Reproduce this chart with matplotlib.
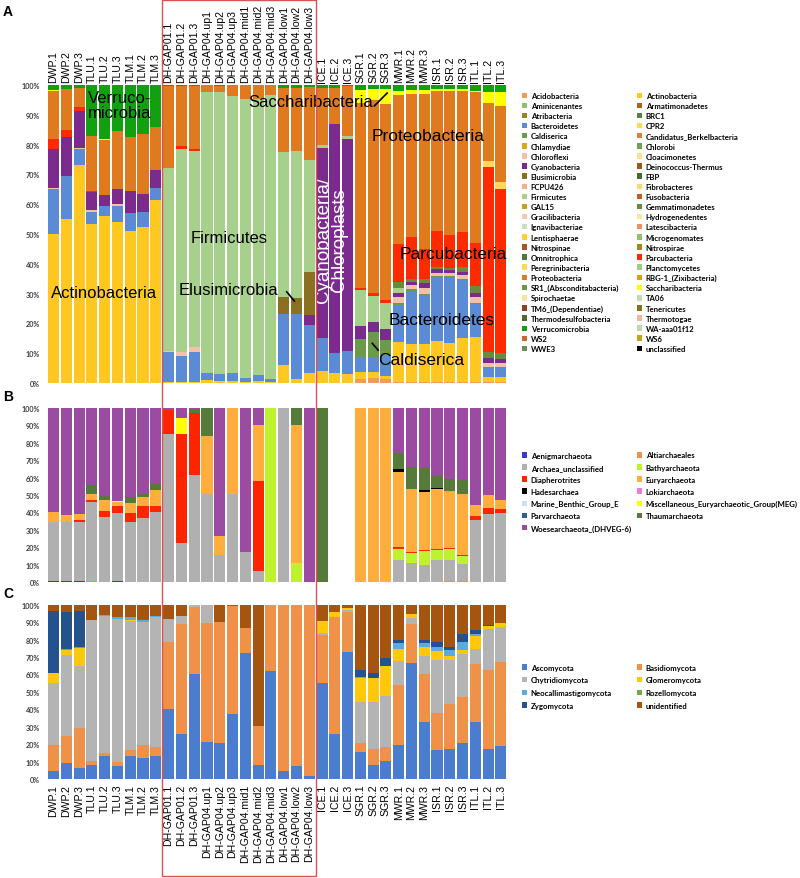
import numpy as np
import matplotlib.pyplot as plt
from matplotlib.patches import Patch, Rectangle
from matplotlib.transforms import blended_transform_factory

#-----------------------------------------------------------------------------------------------------------------------
# 1 - samples

samples = ['DWP.1', 'DWP.2', 'DWP.3', 'TLU.1', 'TLU.2', 'TLU.3', 'TLM.1', 'TLM.2', 'TLM.3',
           'DH-GAP01.1', 'DH-GAP01.2', 'DH-GAP01.3', 'DH-GAP04.up1', 'DH-GAP04.up2', 'DH-GAP04.up3',
           'DH-GAP04.mid1', 'DH-GAP04.mid2', 'DH-GAP04.mid3', 'DH-GAP04.low1', 'DH-GAP04.low2', 'DH-GAP04.low3',
           'ICE.1', 'ICE.2', 'ICE.3', 'SGR.1', 'SGR.2', 'SGR.3', 'MWR.1', 'MWR.2', 'MWR.3',
           'ISR.1', 'ISR.2', 'ISR.3', 'ITL.1', 'ITL.2', 'ITL.3']

#-----------------------------------------------------------------------------------------------------------------------
# 2 - panel A: bacterial phyla (% of reads)

bac_names = ['Acidobacteria', 'Actinobacteria', 'Aminicenantes', 'Armatimonadetes', 'Atribacteria', 'BRC1',
             'Bacteroidetes', 'CPR2', 'Caldiserica', 'Candidatus_Berkelbacteria', 'Chlamydiae', 'Chlorobi',
             'Chloroflexi', 'Cloacimonetes', 'Cyanobacteria', 'Deinococcus-Thermus', 'Elusimicrobia', 'FBP',
             'FCPU426', 'Fibrobacteres', 'Firmicutes', 'Fusobacteria', 'GAL15', 'Gemmatimonadetes',
             'Gracilibacteria', 'Hydrogenedentes', 'Ignavibacteriae', 'Latescibacteria', 'Lentisphaerae',
             'Microgenomates', 'Nitrospinae', 'Nitrospirae', 'Omnitrophica', 'Parcubacteria', 'Peregrinibacteria',
             'Planctomycetes', 'Proteobacteria', 'RBG-1_(Zixibacteria)', 'SR1_(Absconditabacteria)',
             'Saccharibacteria', 'Spirochaetae', 'TA06', 'TM6_(Dependentiae)', 'Tenericutes',
             'Thermodesulfobacteria', 'Thermotogae', 'Verrucomicrobia', 'WA-aaa01f12', 'WS2', 'WS6', 'WWE3',
             'unclassified']
bac_colors = ['#F29A5A', '#FFC820', '#8FC070', '#B0601A', '#A08020', '#5A8040',
              '#5B8BD5', '#FFD750', '#6A9A4A', '#E08030', '#D8A820', '#70A050',
              '#F5C0A8', '#FAE090', '#7B2A8E', '#A0561A', '#8A7020', '#4A6A30',
              '#F0B090', '#FDD870', '#A8D08D', '#C06020', '#C8A020', '#6A8A40',
              '#F4C8B8', '#FAE8A0', '#C8E0C0', '#F09060', '#FFD030',
              '#90C070', '#A05A2A', '#A08A20', '#4E7A3A', '#FF2A00', '#FFD85A',
              '#A0CC80', '#DF7A1E', '#D8A010', '#6A9A40',
              '#FFFF00', '#FFE0A0', '#C0DCB0', '#904020', '#8A7018',
              '#4A6A30', '#F0B898', '#10A010', '#B8DCA8', '#C86A30', '#C8A020', '#6A9050',
              '#000000']

acido = [0, 0, 0, 0, 0, 0, 0, 0, 0, 0, 0, 0, 0, 0, 0, 0, 0, 0, 0, 0, 0, 0, 0, 0,
         1.3, 1.7, 1.2, .5, .5, .5, .5, .5, .5, .5, .5, .5]
actino = [50, 55, 73, 53.5, 56, 54, 51, 52.5, 61.5, .3, .5, .5, 1, .8, .8, .5, .8, .5, 6, 1.5, 3.5,
          4, 3.5, 3, 2.3, 1.9, 1.3, 13.2, 12.5, 12.5, 13.5, 13, 14.5, 15, 1.5, 1.5]
bactero = [15, 14.5, 5.5, 4, 3.5, 5.5, 6, 5, 4, 10, 8.5, 10, 2.5, 2.3, 2.5, 1.2, 2, 1, 17, 21.5, 16,
           11, 6.5, 7.8, 5, 4.7, 6.5, 12.6, 18, 16.5, 21.7, 22.2, 19.7, 10.9, 3, 3]
caldis = [0, 0, 0, 0, 0, 0, 0, 0, 0, 0, 0, 0, 0, 0, 0, 0, 0, 0, 0, 0, 0, 0, 0, 0,
          6.3, 8.7, 5.5, .5, .5, .5, .3, .3, .3, .4, .3, .3]
chloro = [.5, 0, .3, .5, 0, .5, 0, 0, 0, .5, 1.5, 1.5, 0, 0, 0, 0, 0, 0, 0, 0, 0, 0, 0, 0,
          0, 0, 0, 2, 1.5, 2, .8, 1, 1.2, 2, 1.5, 1.5]
cyano = [13, 13, 12.5, 6, 3.5, 5, 7.5, 6, 6, 0, 0, 0, 0, 0, 0, 0, 0, 0, 0, 0, 3.3, 64, 77, 71.2,
         4.2, 3.4, 3.6, 1.5, 1, 1.5, 1.5, .8, 1.2, 1.5, 1.5, 1.2]
elusi = [0, 0, 0, 0, 0, 0, 0, 0, 0, 0, 0, 0, 0, 0, 0, 0, 0, 0, 6, 5.5, 14.3, 0, 0, 0,
         0, 0, 0, 0, 0, 0, 0, 0, 0, 0, 0, 0]
firmi = [0, 0, 0, 0, 0, 0, 0, 0, 0, 61.5, 68, 66, 94, 94.5, 93, 93.6, 92.5, 95, 48.5, 49.5, 37.7,
         1, 0, 1, 12, 8.9, 8.6, 1.5, 0, 0, 0, 0, 0, 0, 0, 0]
gemma = [0, 0, 0, 0, 0, 0, 0, 0, 0, 0, 0, 0, 0, 0, 0, 0, 0, 0, 0, 0, 0, 0, 0, 0,
         0, 0, 0, 2, 1, 1.5, .7, .7, 1.4, 2.4, 2, 2]
parcu = [3.5, 2.5, 1.2, .3, 0, 0, 0, 0, 0, 0, 1, .5, 0, 0, 0, 0, 0, 0, 0, 0, 0, 0, 0, 0,
         .7, 1, 1, 12.8, 14, 10, 12, 11.2, 12, 14.3, 62.4, 55.3]
peregr = [0, 0, 0, 0, 0, 0, 0, 0, 0, 0, 0, 0, 0, 0, 0, 0, 0, 0, 0, 0, 0, 0, 0, 0,
          0, 0, 0, 0, 0, 0, 0, 0, 0, 0, 2, 2.3]
proteo = [16, 13.5, 6.5, 18.7, 18.5, 19.5, 18, 20, 14.5, 27.2, 20, 21, 2.5, 2.2, 3.7, 4.7, 4.7, 3.5,
          21.5, 21, 24.4, 19, 12, 16.5, 62, 64.7, 66, 50, 48, 52, 47, 48.3, 47.2, 50.5, 19.6, 25.7]
saccha = [.3, 0, 0, 0, .3, 0, 0, 0, 0, 0, 0, 0, 0, 0, 0, 0, 0, 0, 0, 0, 0, 0, 0, 0,
          4.5, 3.5, 4.8, 1.4, 1.2, 1.2, .5, .5, .5, .5, 3.7, 4.5]
verruco = [1.7, 1.5, 1, 17, 18.2, 15.5, 17.5, 16.5, 14, .5, .5, .5, 0, .2, 0, 0, 0, 0, 1, 1, .8,
           1, 1, .5, 1.7, 1.5, 1.5, 2, 1.8, 1.8, 1.5, 1.5, 1.5, 2, 2.3, 2.5]

bac_data = {'Acidobacteria': acido, 'Actinobacteria': actino, 'Bacteroidetes': bactero,
            'Caldiserica': caldis, 'Chloroflexi': chloro, 'Cyanobacteria': cyano, 'Elusimicrobia': elusi,
            'Firmicutes': firmi, 'Gemmatimonadetes': gemma, 'Parcubacteria': parcu,
            'Peregrinibacteria': peregr, 'Proteobacteria': proteo, 'Saccharibacteria': saccha,
            'Verrucomicrobia': verruco}

#-----------------------------------------------------------------------------------------------------------------------
# 3 - panel B: archaea

arc_names = ['Aenigmarchaeota', 'Altiarchaeales', 'Archaea_unclassified', 'Bathyarchaeota', 'Diapherotrites',
             'Euryarchaeota', 'Hadesarchaea', 'Lokiarchaeota', 'Marine_Benthic_Group_E',
             'Miscellaneous_Euryarchaeotic_Group(MEG)', 'Parvarchaeota', 'Thaumarchaeota',
             'Woesearchaeota_(DHVEG-6)']
arc_colors = ['#3A3AC8', '#E8924E', '#B0B0B0', '#BFF22E', '#FF2400', '#FFAE3E', '#000000', '#E57FE0',
              '#CFDFEF', '#FFFF00', '#2E6095', '#557A3A', '#9C4BA3']

aenig = [.8, .8, .8, 0, 0, .8, 0, 0, 0, 0, 0, 0, 0, 0, 0, 0, 0, 0, 0, 0, 0, 0, 0, 0,
         0, 0, 0, 0, 0, 0, 0, 0, 0, 0, 0, 0]
altiar = [0, 0, 0, .5, 0, 0, 0, 0, 0, 0, 0, 0, 0, 0, 0, 0, 0, 0, 0, 0, 0, 0, 0, 0,
          0, 0, 0, 0, 0, 0, 0, .5, .5, 0, 0, 0]
arch_uncl = [33.5, 33.9, 33.9, 45.7, 37.6, 38.7, 34.3, 36.6, 40.5, 85.2, 22.4, 61.6, 50.3, 15.5, 50.3,
             17.1, 6.2, 0, 100, 0, 0, 0, 0, 0, 0, 0, 0, 12.7, 10.8, 9.8, 12.7, 12.2, 9.8, 35.7, 38.8, 39.7]
bathy = [0, 0, 0, 0, 0, 0, 0, 0, 0, 0, 0, 0, 0, 0, 0, 0, 0, 100, 0, 10.7, 0, 0, 0, 0,
         0, 0, 0, 6.5, 5.9, 8.2, 5.9, 6.3, 4.8, 0, 0, 0]
diaph = [.3, 0, 1.1, 1.2, 3.4, 3.9, 5.4, 6.8, 2.9, 13.7, 62.4, 35.7, 0, 0, 0, 0, 52.1, 0, 0, 0, 0,
         0, 0, 0, 0, 0, 0, .8, .6, .5, .4, .3, .5, 2.5, 3.6, 2.3]
eury = [5.9, 3.9, 3.4, 3.2, 6.4, 2.5, 5.8, 5.4, 9.6, 0, 0, 0, 33.7, 11.1, 49.7, 0, 31.7, 0, 0, 79.5, 0,
        0, 0, 0, 100, 100, 100, 43.5, 36.1, 33.5, 34.5, 33.2, 34.7, 6.1, 7.6, 5.4]
hades = [0, 0, 0, 0, 0, 0, 0, 0, 0, 0, 0, 0, 0, 0, 0, 0, 0, 0, 0, 0, 0, 0, 0, 0,
         0, 0, 0, 1.5, 0, .7, .5, 0, .5, 0, 0, 0]
meg = [0, 0, 0, 0, 0, .5, 0, 0, 0, 0, 9.6, 0, 0, 0, 0, 0, 0, 0, 0, 0, 0, 0, 0, 0,
       0, 0, 0, 0, 0, 0, 0, 0, 0, 0, 0, 0]
thaum = [0, 0, 0, 5.2, 1.9, 0, 3.3, 1.8, 3.5, 0, 0, 1.9, 16, 0, 0, 0, 0, 0, 0, 9.8, 0, 100, 0, 0,
         0, 0, 0, 8.9, 12.6, 12.8, 7.2, 6.7, 8, 0, 0, 0]
woese = [59.5, 61.4, 60.8, 44.2, 50.7, 53.6, 51.2, 49.4, 43.5, 1.1, 5.6, .8, 0, 73.4, 0, 82.9, 10, 0, 0, 0,
         100, 0, 0, 0, 0, 0, 0, 26.1, 34, 34.5, 38.8, 40.8, 41.2, 55.7, 50, 52.6]

arc_data = {'Aenigmarchaeota': aenig, 'Altiarchaeales': altiar, 'Archaea_unclassified': arch_uncl,
            'Bathyarchaeota': bathy, 'Diapherotrites': diaph, 'Euryarchaeota': eury, 'Hadesarchaea': hades,
            'Miscellaneous_Euryarchaeotic_Group(MEG)': meg, 'Thaumarchaeota': thaum,
            'Woesearchaeota_(DHVEG-6)': woese}

#-----------------------------------------------------------------------------------------------------------------------
# 4 - panel C: fungi

fun_names = ['Ascomycota', 'Basidiomycota', 'Chytridiomycota', 'Glomeromycota', 'Neocallimastigomycota',
             'Rozellomycota', 'Zygomycota', 'unidentified']
fun_colors = ['#4A7DCE', '#F0914A', '#B4B4B4', '#FFC80A', '#5BAAE0', '#70AD47', '#24528E', '#A65510']

asco = [4.4, 9, 6.3, 8.2, 13, 7.6, 13.4, 12.2, 13, 40.2, 25.8, 60.2, 21, 20.7, 37.3, 72.1, 8.2, 62, 4.7, 7.6,
        1.5, 55.1, 25.8, 72.7, 15.7, 8, 10.5, 19.7, 66.6, 32.9, 16.6, 17.2, 20.7, 32.5, 17.2, 19.1]
basid = [15.3, 15.8, 22.8, 2.3, 2, 2, 3.4, 7.5, 5.2, 38.6, 63.1, 38.7, 68.3, 69.5, 62.1, 14.5, 22.4, 38, 95.3,
         92.4, 98.5, 27.5, 67.3, 22.9, 4.8, 9.2, 8, 34.2, 22.3, 27.3, 21.3, 25.8, 26.5, 33.5, 45.5, 47.9]
chytr = [35.2, 46.3, 35.6, 80.7, 78.3, 82.2, 74, 70.3, 74.8, 13, 4.8, 1.1, 10.7, 0, 0, 0, 0, 0, 0, 0, 0,
         .9, 0, 1.3, 23.5, 26.8, 29.3, 14, 3.3, 10.5, 30.4, 25.3, 24.5, 8.6, 23.4, 20.4]
glom = [5.9, 3.1, 10.5, 0, 0, 0, .5, 0, 0, 0, 0, 0, 0, 0, 0, 0, 0, 0, 0, 0, 0,
        7, 2.5, 1, 14, 14, 16.9, 6.7, 2.3, 4.8, 5, 2.4, 2.3, 7.3, 1.9, 1.9]
neo = [0, 0, 0, 0, .7, 1, 1.8, 1.3, .8, 0, 0, 0, 0, 0, 0, 0, 0, 0, 0, 0, 0,
       0, 0, 0, .5, 0, 0, 3.4, 0, 2.5, 2.6, 3.3, 4.4, 1.3, 0, 0]
rozel = [.3, .3, .3, 0, 0, 0, 0, 0, 0, 0, 0, 0, 0, 0, 0, 0, 0, 0, 0, 0, 0,
         0, 0, 0, 0, 0, .4, 0, 0, 0, 0, 0, .3, 0, 0, 0]
zygo = [35.5, 21.5, 21.1, 0, 0, 0, 0, 0, 0, 0, 0, 0, 0, 0, 0, 0, 0, 0, 0, 0, 0,
        0, 0, 0, 4.2, 2.8, 4.3, 1.9, 0, 1.9, 2.5, 1.5, 4.3, 2.3, .6, 0]
unid = [3.4, 4, 3.4, 8.8, 6, 7.2, 6.9, 8.7, 6.2, 8.2, 6.3, 0, 0, 9.8, .6, 13.4, 69.4, 0, 0, 0, 0,
        9.5, 4.4, 2.1, 37.3, 39.2, 30.6, 20.1, 5.5, 20.1, 21.6, 24.5, 17, 14.5, 11.4, 10.7]

fun_data = {'Ascomycota': asco, 'Basidiomycota': basid, 'Chytridiomycota': chytr, 'Glomeromycota': glom,
            'Neocallimastigomycota': neo, 'Rozellomycota': rozel, 'Zygomycota': zygo, 'unidentified': unid}

#-----------------------------------------------------------------------------------------------------------------------
# 5 - figure

tick_font = 'Lato'
label_font = 'Liberation Sans'

fig = plt.figure(figsize=(8, 8.79), dpi=100)
W, H = 800, 879
x_left, x_right = 47.2, 507.3


def px_axes(top, bottom):
    return fig.add_axes([x_left / W, 1 - bottom / H, (x_right - x_left) / W, (bottom - top) / H])


axA = px_axes(86, 384)
axB = px_axes(409, 583)
axC = px_axes(605.7, 780)

x = np.arange(len(samples))


def stacked(ax, names, colors, data):
    # 100% stacked columns, first series at the bottom (Excel style)
    total = np.zeros(len(samples))
    for n in names:
        if n in data:
            total += np.array(data[n], dtype=float)
    total[total == 0] = 1
    bottom = np.zeros(len(samples))
    for n, c in zip(names, colors):
        if n not in data:
            continue
        vals = np.array(data[n], dtype=float) / total * 100
        ax.bar(x, vals, 0.87, bottom=bottom, color=c, linewidth=0)
        bottom += vals
    ax.set_xlim(-0.5, len(samples) - 0.5)
    ax.set_ylim(0, 100)
    ax.set_yticks(np.arange(0, 101, 10))
    ax.set_yticklabels([f'{v}%' for v in range(0, 101, 10)], fontsize=5.2, fontweight='bold',
                       family=tick_font, color='#404040')
    ax.tick_params(axis='y', length=0, pad=5)
    for s in ax.spines.values():
        s.set_visible(False)


stacked(axA, bac_names, bac_colors, bac_data)
stacked(axB, arc_names, arc_colors, arc_data)
stacked(axC, fun_names, fun_colors, fun_data)

# sample labels on top of A and below C
axA.xaxis.tick_top()
axA.set_xticks(x)
axA.set_xticklabels(samples, rotation=90, fontsize=7.6, family=label_font)
axA.tick_params(axis='x', length=0, pad=2.5)
axB.set_xticks([])
axC.set_xticks(x)
axC.set_xticklabels(samples, rotation=90, fontsize=7.6, family=label_font)
axC.tick_params(axis='x', length=0, pad=3.5)

#-----------------------------------------------------------------------------------------------------------------------
# 6 - labels inside panel A

big = dict(family=label_font, ha='center', va='center', color='black')
axA.text(5.2, 93.3, 'Verruco-\nmicrobia', fontsize=12, linespacing=0.95, **big)
axA.text(3.94, 30.5, 'Actinobacteria', fontsize=12, **big)
axA.text(13.7, 48.7, 'Firmicutes', fontsize=12, **big)
axA.text(13.7, 31.5, 'Elusimicrobia', fontsize=12, **big)
axA.text(20.14, 94.3, 'Saccharibacteria', fontsize=12, **big)
axA.text(29.3, 83.2, 'Proteobacteria', fontsize=12.5, **big)
axA.text(31.25, 43.3, 'Parcubacteria', fontsize=12.5, **big)
axA.text(30.4, 21.2, 'Bacteroidetes', fontsize=12.5, **big)
axA.text(28.8, 7.8, 'Caldiserica', fontsize=12.5, **big)
axA.text(21.75, 48.3, 'Cyanobacteria/\nChloroplasts', fontsize=13.5, rotation=90, linespacing=0.9,
         family=label_font, ha='center', va='center', color='white')
axA.plot([18.24, 18.84], [30.6, 27.5], color='black', lw=1.2)
axA.plot([25.1, 26.1], [93.0, 97.3], color='black', lw=1.2)
axA.plot([24.94, 25.4], [13.3, 11.0], color='black', lw=1.2)

#-----------------------------------------------------------------------------------------------------------------------
# 7 - legends (two columns each, filled row by row)


def two_col_legend(names, colors, top_px, pitch_spacing):
    for col, x_px in ((0, 521.5), (1, 636.5)):
        idx = list(range(col, len(names), 2))
        handles = [Patch(facecolor=colors[i], edgecolor='none') for i in idx]
        fig.legend(handles, [names[i] for i in idx], loc='upper left',
                   bbox_to_anchor=(x_px / W, 1 - top_px / H), frameon=False,
                   prop={'family': tick_font, 'weight': 'bold', 'size': 5.6},
                   handlelength=0.72, handleheight=0.72, handletextpad=0.45,
                   labelspacing=pitch_spacing, borderpad=0, borderaxespad=0)


two_col_legend(bac_names, bac_colors, 93.0, 0.40)
two_col_legend(arc_names, arc_colors, 452.5, 0.66)
two_col_legend(fun_names, fun_colors, 664.5, 0.74)

#-----------------------------------------------------------------------------------------------------------------------
# 8 - panel letters and red box around DH-GAP samples

for letter, y_px in (('A', 12.5), ('B', 397.5), ('C', 594.5)):
    fig.text(3 / W, 1 - y_px / H, letter, fontsize=10, fontweight='bold', family=label_font,
             ha='left', va='center')

trans = blended_transform_factory(axA.transData, fig.transFigure)
box_bottom = 1 - 877 / H
box_top = 1 - 1 / H
fig.patches.append(Rectangle((8.5, box_bottom), 12, box_top - box_bottom, transform=trans,
                             fill=False, edgecolor='#D9534F', linewidth=1.0, zorder=10))

fig.savefig('out.png', dpi=100)
